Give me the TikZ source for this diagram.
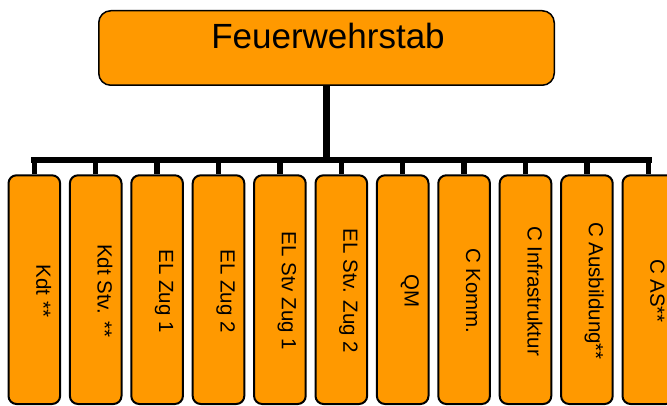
\documentclass[tikz,border=0pt]{standalone}
\usepackage{fontspec}
\setmainfont{Liberation Sans}
\definecolor{orgfill}{RGB}{255,153,0}
\begin{document}
\begin{tikzpicture}[x=1pt,y=-1pt,
  topbox/.style={draw=black, line width=1.5pt, fill=orgfill, rounded corners=12pt,
    minimum width=455.5pt, minimum height=74.5pt, inner sep=0pt},
  subbox/.style={draw=black, line width=2pt, fill=orgfill, rounded corners=8pt,
    minimum width=51.6pt, minimum height=228.7pt, inner sep=0pt},
  sublbl/.style={rotate=-90, anchor=base, inner sep=0pt, font=\fontsize{20.5}{24}\selectfont},
  toplbl/.style={anchor=base, inner sep=0pt, font=\fontsize{35}{40}\selectfont},
  trunk/.style={line width=6.7pt},
  busline/.style={line width=6.7pt, line cap=rect},
  drop/.style={line width=5.5pt}]
\useasboundingbox (0,0) rectangle (667,406);
\clip (0,0) rectangle (667,406);
\coordinate (busL) at (34.3,160);
% nodes
\node[topbox] (top) at (326.5,48) {};
\node[toplbl] (toptxt) at (328,48.3) {Feuerwehrstab};
\foreach \i/\t in {1/{Kdt **},2/{Kdt Stv. **},3/{EL Zug 1},4/{EL Zug 2},5/{EL Stv Zug 1},6/{EL Stv. Zug 2},7/{QM},8/{C Komm.},9/{C Infrastruktur},10/{C Ausbildung**},11/{C AS**}}{
  \pgfmathsetmacro{\cx}{34.3+61.4*(\i-1)}
  \node[subbox] (b\i) at (\cx,289.65) {};
  \node[sublbl] (t\i) at (\cx+2,291) {\t};
}
% connectors
\draw[trunk] (top.south) -- (top.south |- busL);
\draw[busline] (b1.north |- busL) -- (b11.north |- busL);
\foreach \i in {1,...,11}{
  \draw[drop] (b\i.north |- busL) -- (b\i.north);
}
\end{tikzpicture}
\end{document}
